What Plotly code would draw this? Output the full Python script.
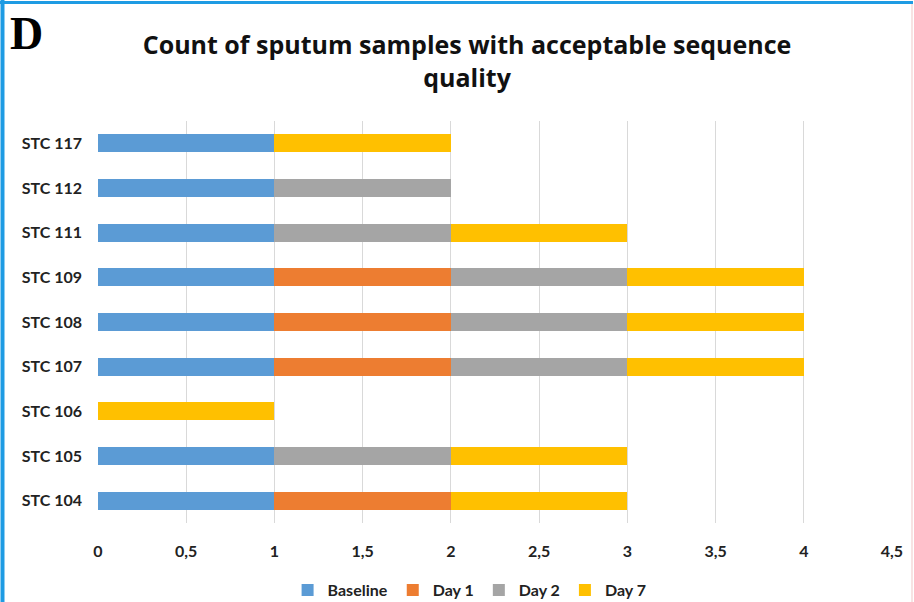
import plotly.graph_objects as go

# Patients (bottom to top) and number of samples per time point
patients = ["STC 104", "STC 105", "STC 106", "STC 107", "STC 108",
            "STC 109", "STC 111", "STC 112", "STC 117"]
baseline = [1, 1, 0, 1, 1, 1, 1, 1, 1]
day1 = [1, 0, 0, 1, 1, 1, 0, 0, 0]
day2 = [0, 1, 0, 1, 1, 1, 1, 1, 0]
day7 = [1, 1, 1, 1, 1, 1, 1, 0, 1]

series = [
    ("Baseline", baseline, "#5B9BD5"),
    ("Day 1", day1, "#ED7D31"),
    ("Day 2", day2, "#A5A5A5"),
    ("Day 7", day7, "#FFC000"),
]

W, H = 914, 602
ML, MR, MT, MB = 98, 22, 121, 79
FONT = "Lato"

fig = go.Figure()
for name, vals, color in series:
    fig.add_trace(go.Bar(
        y=patients, x=vals, name=name, orientation="h",
        marker=dict(color=color, line=dict(width=0)),
    ))

# convert pixel positions to paper coordinates for the frame lines
pw, ph = W - ML - MR, H - MT - MB


def px(x):
    return (x - ML) / pw


def py(y):
    return (H - MB - y) / ph


fig.update_layout(
    width=W, height=H,
    margin=dict(l=ML, r=MR, t=MT, b=MB, autoexpand=False),
    barmode="stack", bargap=0.6,
    separators=",.",
    plot_bgcolor="white", paper_bgcolor="white",
    font=dict(family=FONT, color="#222222"),
    title=dict(
        text="<b>Count of sputum samples with acceptable sequence<br>quality</b>",
        x=0.511, xanchor="center", y=1 - 54 / H, yanchor="middle",
        font=dict(family="Open Sans", size=25, color="#111111"),
    ),
    xaxis=dict(
        range=[0, 4.5], dtick=0.5, tick0=0,
        showgrid=True, gridcolor="#D9D9D9", gridwidth=1,
        zeroline=False, showline=False, ticks="",
        tickfont=dict(family=FONT, size=16, color="#222222", weight="bold"),
        ticklabelstandoff=17,
    ),
    yaxis=dict(
        showgrid=False, zeroline=False, showline=False, ticks="",
        tickfont=dict(family=FONT, size=16, color="#222222", weight="bold"),
        ticklabelstandoff=15,
    ),
    legend=dict(
        orientation="h", x=0.468, xanchor="center", y=py(590), yanchor="middle",
        font=dict(family=FONT, size=16, color="#222222", weight="bold"),
        traceorder="normal", itemwidth=30,
    ),
    annotations=[dict(
        text="<b>D</b>", xref="paper", yref="paper",
        x=px(8), y=py(33), xanchor="left", yanchor="middle",
        showarrow=False, font=dict(family="Liberation Serif", size=46, color="#000000"),
    )],
    shapes=[
        dict(type="line", xref="paper", yref="paper",
             x0=px(2.5), x1=px(2.5), y0=py(0), y1=py(H),
             line=dict(color="#1E9BE3", width=4)),
        dict(type="line", xref="paper", yref="paper",
             x0=px(0), x1=px(913), y0=py(2.5), y1=py(2.5),
             line=dict(color="#1E9BE3", width=3)),
        dict(type="line", xref="paper", yref="paper",
             x0=px(912), x1=px(912), y0=py(4), y1=py(H),
             line=dict(color="#F7E3E3", width=2)),
    ],
)

fig.write_html("out.html")
